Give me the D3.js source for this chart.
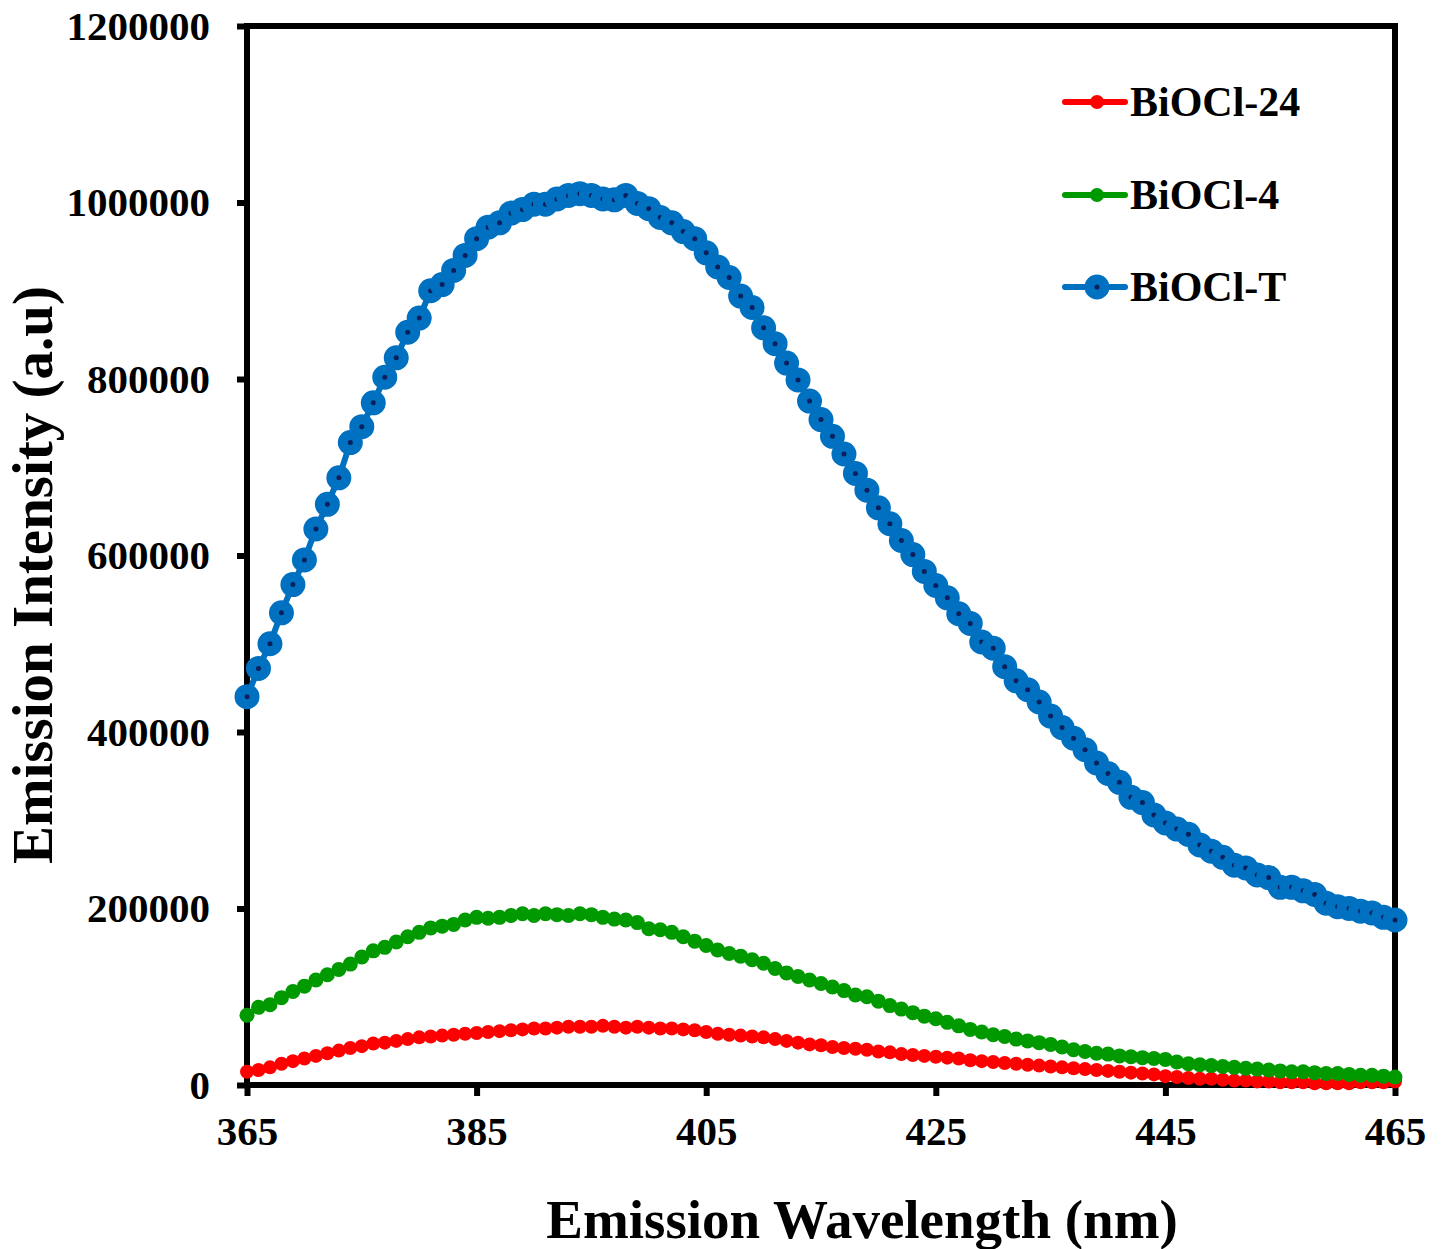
<!DOCTYPE html>
<html>
<head>
<meta charset="utf-8">
<script src="https://cdn.jsdelivr.net/npm/d3@7"></script>
<style>
  html, body { margin: 0; padding: 0; background: #fff; }
  svg { display: block; }
  text { font-family: "Liberation Serif", "Times New Roman", serif; font-weight: bold; fill: #000; }
</style>
</head>
<body>
<svg id="chart" width="1441" height="1249"></svg>
<script>
// ---- data ----
const wavelengths = d3.range(365, 466); // 365..465 nm, 1 nm step
const seriesNames = ["BiOCl-24", "BiOCl-4", "BiOCl-T"];
const xTicks = [365, 385, 405, 425, 445, 465];
const yTicks = [0, 200000, 400000, 600000, 800000, 1000000, 1200000];

// intensities in thousands (a.u.)
const biocl24 = [15,17,20,24,27,30,33,36,39,42,44,47,48,50,52,54,55,56,57,58,59,60,61,62,63,64,64,65,66,66,66,67,66,65,66,65,64,64,63,62,60,58,57,56,55,54,52,50,48,46,45,43,42,41,40,38,37,35,34,33,32,31,30,28,27,26,25,24,23,22,21,20,19,18,17,16,15,14,13,12,10,9,8,7,7,6,5,5,4,4,3,3,3,2,2,2,2,3,3,3,4];
const biocl4 = [79,88,91,99,106,112,119,125,131,137,145,152,156,162,168,173,178,180,182,187,190,189,190,192,194,192,194,193,192,194,193,190,188,187,184,177,176,173,168,163,158,153,149,146,142,138,132,127,123,119,115,111,107,102,100,95,90,86,82,78,75,71,67,63,60,57,55,52,50,48,46,43,40,38,36,35,33,32,31,30,29,26,24,23,22,21,20,19,18,17,16,15,15,14,13,13,12,11,11,10,9];
const bioclT = [440,472,500,535,567,595,630,658,688,728,746,773,802,824,853,869,900,907,923,940,959,972,977,988,992,998,998,1004,1008,1010,1008,1004,1003,1008,999,993,983,977,967,959,943,927,915,894,881,858,840,818,799,775,754,735,715,693,674,654,636,617,601,582,566,552,534,523,502,495,474,458,448,434,418,405,393,380,365,353,343,326,320,306,297,290,284,272,265,258,249,246,238,235,224,224,220,216,206,202,200,197,195,190,187];

const seriesValues = [biocl24, biocl4, bioclT];
const colors = ["#FF0000", "#009A00", "#0070C0"];

// ---- layout ----
const svg = d3.select("#chart");
const pLeft = 247, pRight = 1395, pTop = 26, pBottom = 1085;

const x = d3.scaleLinear().domain([365, 465]).range([pLeft, pRight]);
const y = d3.scaleLinear().domain([0, 1200000]).range([pBottom, pTop]);

// frame
svg.append("rect")
  .attr("x", pLeft).attr("y", pTop)
  .attr("width", pRight - pLeft).attr("height", pBottom - pTop)
  .attr("fill", "none").attr("stroke", "#000").attr("stroke-width", 6);

// y axis
const yAxis = svg.append("g")
  .attr("transform", `translate(${pLeft},0)`)
  .call(d3.axisLeft(y).tickValues(yTicks).tickFormat(d3.format("d")).tickSize(10).tickPadding(27));
yAxis.select(".domain").remove();
yAxis.selectAll(".tick line").attr("stroke", "#000").attr("stroke-width", 6);
yAxis.selectAll(".tick text")
  .style("font-size", "41px")
  .style("font-family", '"Liberation Serif", "Times New Roman", serif')
  .style("font-weight", "bold")
  .attr("fill", "#000");

// x axis
const xAxis = svg.append("g")
  .attr("transform", `translate(0,${pBottom})`)
  .call(d3.axisBottom(x).tickValues(xTicks).tickFormat(d3.format("d")).tickSize(11).tickPadding(20));
xAxis.select(".domain").remove();
xAxis.selectAll(".tick line").attr("stroke", "#000").attr("stroke-width", 6);
xAxis.selectAll(".tick text")
  .style("font-size", "41px")
  .style("font-family", '"Liberation Serif", "Times New Roman", serif')
  .style("font-weight", "bold")
  .attr("fill", "#000");

// axis titles
svg.append("text")
  .attr("x", (pLeft + pRight) / 2 + 41).attr("y", 1238)
  .attr("text-anchor", "middle")
  .style("font-size", "55px")
  .text("Emission Wavelength (nm)");

svg.append("text")
  .attr("transform", `translate(52,575) rotate(-90)`)
  .attr("text-anchor", "middle")
  .style("font-size", "57px")
  .text("Emission Intensity (a.u)");

// series
const line = d3.line().x(d => x(d[0])).y(d => y(d[1]));
const markerStyles = [
  { r: 7, lineW: 5 },
  { r: 7.5, lineW: 5 },
  { r: 7.5, lineW: 6 }
];

seriesValues.forEach((vals, i) => {
  const pts = wavelengths.map((w, j) => [w, vals[j] * 1000]);
  const g = svg.append("g");
  g.append("path")
    .datum(pts)
    .attr("d", line)
    .attr("fill", "none")
    .attr("stroke", colors[i])
    .attr("stroke-width", markerStyles[i].lineW);
  if (i < 2) {
    g.selectAll("circle").data(pts).join("circle")
      .attr("cx", d => x(d[0])).attr("cy", d => y(d[1]))
      .attr("r", markerStyles[i].r)
      .attr("fill", colors[i]);
  } else {
    g.selectAll("circle").data(pts).join("circle")
      .attr("cx", d => x(d[0])).attr("cy", d => y(d[1]))
      .attr("r", 7.5)
      .attr("fill", "#0A1F5C")
      .attr("stroke", colors[i])
      .attr("stroke-width", 10);
  }
});

// legend
const legendY = [102, 195, 287];
seriesNames.forEach((name, i) => {
  const g = svg.append("g").attr("transform", `translate(0,${legendY[i]})`);
  g.append("line")
    .attr("x1", 1065).attr("x2", 1125).attr("y1", 0).attr("y2", 0)
    .attr("stroke", colors[i]).attr("stroke-width", 6).attr("stroke-linecap", "round");
  if (i < 2) {
    g.append("circle").attr("cx", 1097).attr("cy", 0).attr("r", 7).attr("fill", colors[i]);
  } else {
    g.append("circle").attr("cx", 1097).attr("cy", 0).attr("r", 7.5)
      .attr("fill", "#0A1F5C").attr("stroke", colors[i]).attr("stroke-width", 10);
  }
  g.append("text")
    .attr("x", 1130).attr("y", 14)
    .style("font-size", "42px")
    .text(name);
});
</script>
</body>
</html>
